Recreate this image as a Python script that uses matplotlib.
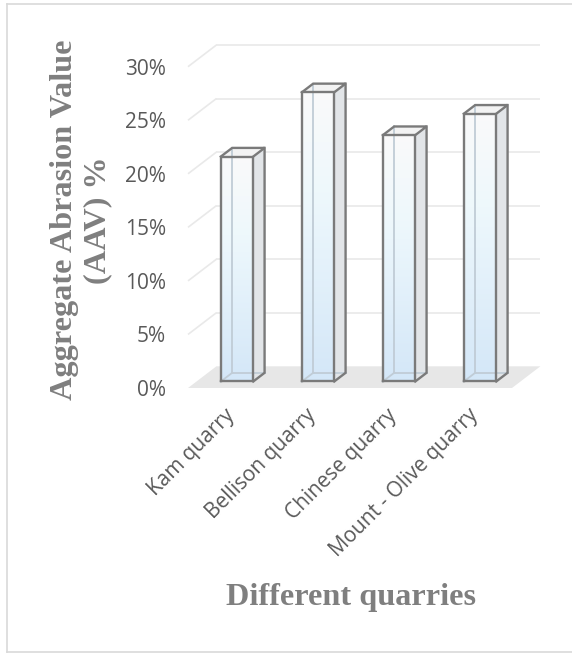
import numpy as np
import matplotlib
matplotlib.use("Agg")
import matplotlib.pyplot as plt
from matplotlib.patches import Polygon
from matplotlib.lines import Line2D
from matplotlib.colors import to_rgb

# Data
categories = ["Kam quarry", "Bellison quarry", "Chinese quarry", "Mount - Olive quarry"]
aav_values = [21, 27, 23, 25]
y_ticks = [0, 5, 10, 15, 20, 25, 30]
y_tick_labels = ["0%", "5%", "10%", "15%", "20%", "25%", "30%"]

# Figure geometry (pixels at dpi 100)
W_PX, H_PX = 572, 653
DPI = 100
fig = plt.figure(figsize=(W_PX / DPI, H_PX / DPI), dpi=DPI)

# Axes box in pixels and the scale of the pseudo-3D floor
ax_l, ax_r, ax_t, ax_b = 178, 560, 30, 395
x_floor_left_px = 188        # where x = -0.5 sits on the front plane
y_zero_px = 388              # where y = 0 sits on the front plane
px_per_cat = 81.0
px_per_pct = 10.71

ax = fig.add_axes([ax_l / W_PX, 1 - ax_b / H_PX, (ax_r - ax_l) / W_PX, (ax_b - ax_t) / H_PX])
xmin = -0.5 - (x_floor_left_px - ax_l) / px_per_cat
xmax = -0.5 + (ax_r - x_floor_left_px) / px_per_cat
ymin = -(ax_b - y_zero_px) / px_per_pct
ymax = (y_zero_px - ax_t) / px_per_pct

# Depth vector of the floor (data units) and bar geometry
DX = 28.4 / px_per_cat
DY = 21.7 / px_per_pct
f_front, f_back = 0.30, 0.70
BAR_W = 0.40
n = len(categories)

grid_c = "#e9e9e9"
floor_c = "#e7e7e7"
edge_c = "#7a7a7a"
hidden_c = "#c0ccd6"
side_c = "#e2e5e8"
top_c = "#f3f3f3"
text_c = "#595959"
title_c = "#7f7f7f"

# Floor
x0f, x1f = -0.5, n - 0.5
ax.add_patch(Polygon([(x0f, 0), (x1f, 0), (x1f + DX, DY), (x0f + DX, DY)],
                     closed=True, facecolor=floor_c, edgecolor="none", zorder=1))

# Back-wall gridlines and left-wall diagonals
for v in y_ticks:
    if v == 0:
        continue
    ax.plot([x0f + DX, x1f + DX], [v + DY, v + DY], color=grid_c, lw=1.2, zorder=2,
            solid_capstyle="butt")
    ax.plot([x0f, x0f + DX], [v, v + DY], color=grid_c, lw=1.2, zorder=2,
            solid_capstyle="butt")

# Gradient for the front faces: near-white at the top to pale blue at the bottom
top_rgb = np.array(to_rgb("#fafafa"))
mid_rgb = np.array(to_rgb("#eef8fc"))
bot_rgb = np.array(to_rgb("#d4e7f8"))
t = np.linspace(0, 1, 256)[:, None]
grad = np.where(t < 0.35, top_rgb + (mid_rgb - top_rgb) * (t / 0.35),
                mid_rgb + (bot_rgb - mid_rgb) * ((t - 0.35) / 0.65))
grad = grad[:, None, :]

for i, v in enumerate(aav_values):
    xl_f = i - BAR_W / 2 + f_front * DX
    xr_f = i + BAR_W / 2 + f_front * DX
    xl_b = i - BAR_W / 2 + f_back * DX
    xr_b = i + BAR_W / 2 + f_back * DX
    y0_f = f_front * DY
    y0_b = f_back * DY
    yt_f = v + y0_f
    yt_b = v + y0_b
    z = 3 + i

    # right side face
    ax.add_patch(Polygon([(xr_f, y0_f), (xr_b, y0_b), (xr_b, yt_b), (xr_f, yt_f)],
                         closed=True, facecolor=side_c, edgecolor="none", zorder=z))
    # top face
    ax.add_patch(Polygon([(xl_f, yt_f), (xr_f, yt_f), (xr_b, yt_b), (xl_b, yt_b)],
                         closed=True, facecolor=top_c, edgecolor="none", zorder=z))
    # front face with gradient
    ax.imshow(grad, extent=(xl_f, xr_f, y0_f, yt_f), origin="upper", aspect="auto",
              interpolation="bicubic", zorder=z)
    # edges seen through the translucent box
    ax.plot([xl_b, xl_b], [y0_b, yt_b], color=hidden_c, lw=1.3, zorder=z + 0.1)
    ax.plot([xl_b, xr_b], [y0_b, y0_b], color=hidden_c, lw=1.3, zorder=z + 0.1)
    ax.plot([xl_f, xl_b], [y0_f, y0_b], color=hidden_c, lw=1.3, zorder=z + 0.1)
    # visible outline
    outline = [
        [(xl_f, y0_f), (xr_f, y0_f), (xr_f, yt_f), (xl_f, yt_f), (xl_f, y0_f)],
        [(xl_f, yt_f), (xl_b, yt_b), (xr_b, yt_b), (xr_f, yt_f)],
        [(xr_b, yt_b), (xr_b, y0_b), (xr_f, y0_f)],
    ]
    for seg in outline:
        xs, ys = zip(*seg)
        ax.plot(xs, ys, color=edge_c, lw=1.7, zorder=z + 0.2, solid_joinstyle="miter")

ax.set_xlim(xmin, xmax)
ax.set_ylim(ymin, ymax)
for s in ax.spines.values():
    s.set_visible(False)
ax.patch.set_alpha(0)

tick_font = "Open Sans"
ax.set_yticks(y_ticks)
ax.set_yticklabels(y_tick_labels, fontsize=15, color=text_c, family=tick_font)
ax.tick_params(axis="y", length=0, pad=12 * 72 / DPI)

ax.set_xticks([i - 0.05 for i in range(n)])
ax.set_xticklabels(categories, fontsize=15, color=text_c, family=tick_font,
                   rotation=45, ha="right", va="top", rotation_mode="anchor")
ax.tick_params(axis="x", length=0, pad=10 * 72 / DPI)

# Axis titles
title_font = ["Liberation Serif", "DejaVu Serif"]
fig.text(81 / W_PX, 1 - 220 / H_PX, "Aggregate Abrasion Value\n(AAV) %", rotation=90,
         ha="center", va="center", multialignment="center", fontsize=23.2,
         fontweight="bold", color=title_c, family=title_font, linespacing=1.2)
fig.text(351 / W_PX, 1 - 597 / H_PX, "Different quarries", ha="center", va="center",
         fontsize=23.2, fontweight="bold", color=title_c, family=title_font)

# Chart-area border
border_c = "#d9d9d9"
fig.add_artist(Line2D([7 / W_PX, 7 / W_PX], [1 - 4 / H_PX, 1 - 652 / H_PX],
                      color=border_c, lw=1.2))
fig.add_artist(Line2D([7 / W_PX, 1.0], [1 - 4 / H_PX, 1 - 4 / H_PX], color=border_c, lw=1.2))
fig.add_artist(Line2D([7 / W_PX, 1.0], [1 - 652 / H_PX, 1 - 652 / H_PX], color=border_c, lw=1.2))

fig.savefig("out.png", dpi=DPI)
